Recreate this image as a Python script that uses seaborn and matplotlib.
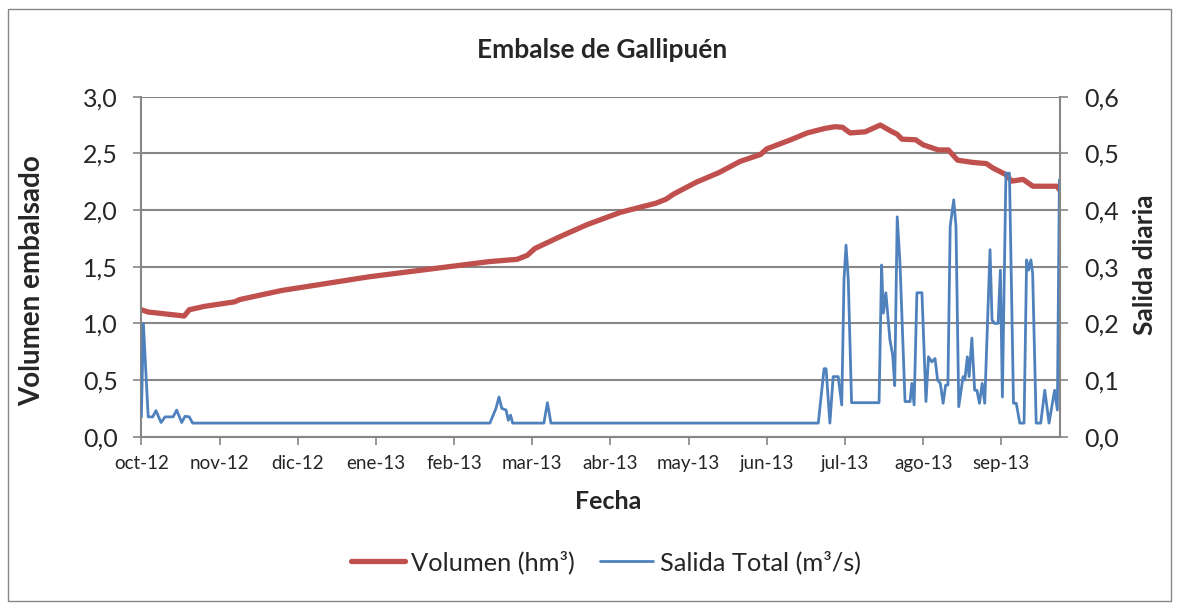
import numpy as np
import pandas as pd
import seaborn as sns
import matplotlib
matplotlib.use("Agg")
import matplotlib.pyplot as plt
from matplotlib.ticker import FuncFormatter, MultipleLocator
from matplotlib.lines import Line2D
from matplotlib.patches import Rectangle

# dias desde 1-oct-2012
vol_day = [0, 2.7, 17, 19, 25, 37, 39, 55.6, 70, 90, 113, 138, 149, 153, 156, 166,
           176.6, 190, 204, 208, 211, 220, 229, 237.5, 245.5, 248, 257.5, 264, 271,
           275, 278, 281, 287, 293, 297.7, 299.6, 301.6, 307, 310, 316, 320, 323.6,
           329.6, 335, 337.7, 343, 345, 349.6, 353.5, 363, 364]
vol_val = [1.12, 1.10, 1.065, 1.12, 1.15, 1.19, 1.21, 1.29, 1.34, 1.41, 1.475, 1.545,
           1.565, 1.60, 1.66, 1.765, 1.87, 1.98, 2.06, 2.095, 2.14, 2.245, 2.33, 2.43,
           2.49, 2.54, 2.62, 2.68, 2.72, 2.735, 2.73, 2.68, 2.69, 2.75, 2.69, 2.67,
           2.625, 2.62, 2.575, 2.53, 2.53, 2.44, 2.42, 2.41, 2.37, 2.31, 2.255, 2.27,
           2.21, 2.21, 2.18]

out_day = [0, 0.8, 2.7, 4.5, 5.8, 7.8, 9.4, 12.6, 14, 16, 17.3, 19, 20.3,
           138.2, 140.6, 141.8, 142.9, 144.6, 145.5, 146.4, 147.2,
           159.6, 161, 162.4,
           268.4, 270.7, 271.5, 273, 274.3, 276.3, 277.7, 278.6, 279.4, 280.3, 281.6,
           292.5, 293.5, 294.2, 295.2, 295.9, 296.8, 297.9, 298.7, 299.7, 300.8, 302.8,
           304.8, 305.5, 306.4, 307.5, 309.5, 311.1, 312.1, 313.4, 314.7, 315.7, 316.8,
           317.9, 318.9, 319.8, 320.7, 322.1, 323, 324.1, 325.8, 326.5, 327.5, 328.2,
           329.3, 330.4, 331.3, 332.3, 333.4, 334.4, 336.5, 337.3, 338.3, 339.7, 340.6,
           341.4, 342.8, 344.2, 345.8, 346.9, 348.3, 350, 351, 351.8, 352.7, 353.4,
           354.8, 356.6, 358.2, 359.9, 362.1, 363.2, 364]
out_val = [0.035, 0.2, 0.035, 0.035, 0.046, 0.025, 0.035, 0.035, 0.047, 0.025, 0.036, 0.035, 0.024,
           0.024, 0.05, 0.07, 0.05, 0.047, 0.029, 0.038, 0.024,
           0.024, 0.06, 0.024,
           0.024, 0.12, 0.12, 0.024, 0.106, 0.106, 0.056, 0.277, 0.338, 0.277, 0.06,
           0.06, 0.303, 0.218, 0.254, 0.218, 0.171, 0.144, 0.09, 0.388, 0.306, 0.062,
           0.062, 0.094, 0.056, 0.254, 0.254, 0.062, 0.141, 0.132, 0.138, 0.1, 0.094,
           0.059, 0.091, 0.091, 0.371, 0.418, 0.371, 0.053, 0.106, 0.1, 0.141, 0.106,
           0.174, 0.082, 0.082, 0.059, 0.094, 0.059, 0.33, 0.206, 0.2, 0.2, 0.294,
           0.07, 0.465, 0.465, 0.059, 0.059, 0.024, 0.024, 0.312, 0.294, 0.312, 0.288,
           0.024, 0.024, 0.082, 0.024, 0.082, 0.047, 0.453]

month_ticks = [0, 31, 62, 93, 124, 155, 186, 217, 248, 279, 310, 341]
month_labels = ['oct-12', 'nov-12', 'dic-12', 'ene-13', 'feb-13', 'mar-13',
                'abr-13', 'may-13', 'jun-13', 'jul-13', 'ago-13', 'sep-13']

red = '#C0504D'
blue = '#4F81BD'
grey = '#868686'

sns.set_style("white")
plt.rcParams['font.family'] = ['Lato', 'DejaVu Sans']

fig = plt.figure(figsize=(11.8, 6.1), dpi=100)
ax = fig.add_axes([0.1198, 0.2841, 0.7782, 0.5574])
ax2 = ax.twinx()

sns.lineplot(x=vol_day, y=vol_val, ax=ax, color=red, lw=3.8, estimator=None,
             sort=False, legend=False, solid_joinstyle='round')
sns.lineplot(x=out_day, y=out_val, ax=ax2, color=blue, lw=2.0, estimator=None,
             sort=False, legend=False, solid_joinstyle='round')

comma = FuncFormatter(lambda v, p: f"{v:.1f}".replace('.', ','))

ax.set_xlim(0, 364.1)
ax.set_ylim(0, 3.0)
ax2.set_ylim(0, 0.6)
ax.yaxis.set_major_locator(MultipleLocator(0.5))
ax2.yaxis.set_major_locator(MultipleLocator(0.1))
ax.yaxis.set_major_formatter(comma)
ax2.yaxis.set_major_formatter(comma)
ax.set_xticks(month_ticks)
ax.set_xticklabels(month_labels)

ax.grid(axis='y', color=grey, lw=1.5)
ax.grid(axis='x', visible=False)
ax.set_axisbelow(True)

for a in (ax, ax2):
    for s in a.spines.values():
        s.set_visible(False)
for s in ('left', 'bottom'):
    ax.spines[s].set_visible(True)
    ax.spines[s].set_color(grey)
    ax.spines[s].set_linewidth(1.5)
ax2.spines['right'].set_visible(True)
ax2.spines['right'].set_color(grey)
ax2.spines['right'].set_linewidth(1.5)

ax.tick_params(axis='y', left=True, direction='out', length=6, width=1.2,
               color=grey, labelsize=18, pad=11)
ax.tick_params(axis='x', bottom=True, direction='out', length=6, width=1.2,
               color=grey, labelsize=13.5, pad=7)
ax2.tick_params(axis='y', right=True, direction='out', length=6, width=1.2,
                color=grey, labelsize=18, pad=12)

ax.set_ylabel('Volumen embalsado', fontsize=20, fontweight='bold')
ax.yaxis.set_label_coords(-0.105, 0.458)
ax2.set_ylabel('Salida diaria', fontsize=19, fontweight='bold')
ax2.yaxis.set_label_coords(1.080, 0.505)
ax.set_xlabel('Fecha', fontsize=18, fontweight='bold')
ax.xaxis.set_label_coords(0.508, -0.157)

fig.text(602 / 1180, 1 - 50 / 610, 'Embalse de Gallipuén', ha='center', va='center',
         fontsize=19, fontweight='bold')

handles = [Line2D([], [], color=red, lw=3.8), Line2D([], [], color=blue, lw=2.0)]
fig.legend(handles, ['Volumen (hm³)', 'Salida Total (m³/s)'], loc='center',
           bbox_to_anchor=(606 / 1180, 1 - 562 / 610), ncol=2, frameon=False,
           fontsize=18.3, handlelength=2.1, handletextpad=0.25, columnspacing=1.0)

fig.patches.append(Rectangle((8 / 1180, 9 / 610), 1163 / 1180, 592 / 610,
                             transform=fig.transFigure, fill=False,
                             edgecolor=grey, lw=1))

fig.savefig('out.png', dpi=100)
